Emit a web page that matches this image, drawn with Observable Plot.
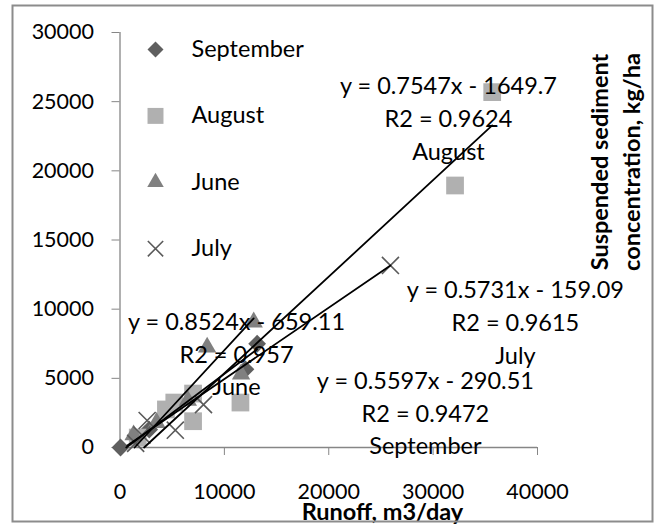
<!DOCTYPE html>
<html><head><meta charset="utf-8">
<script src="https://cdn.jsdelivr.net/npm/d3@7"></script>
<script src="https://cdn.jsdelivr.net/npm/@observablehq/plot@0.6"></script>
<style>body{margin:0;background:#fff}#chart{width:661px;height:525px}</style>
</head><body><div id="chart"></div>
<script>
// ---- data ----
const seriesNames = ["September", "August", "June", "July"];
const septX = [50, 12020, 13140, 2800];
const septY = [0, 5650, 7500, 1300];
const augX = [1700, 4400, 5200, 7000, 7000, 11540, 32100, 35660];
const augY = [720, 2750, 3250, 3900, 1900, 3250, 18940, 25690];
const juneX = [1300, 3500, 6500, 8350, 11600, 12810];
const juneY = [900, 1800, 3400, 7250, 5300, 9060];
const julyX = [1500, 2100, 2600, 5300, 8000, 25910];
const julyY = [300, 900, 1950, 1250, 3100, 13160];

// trend line endpoints [startX, startY, endX, endY]
const trendSept = [600, 0, 13140, 7100];
const trendAug = [2310, 0, 35660, 23280];
const trendJune = [1400, 0, 12810, 9330];
const trendJuly = [700, 150, 25910, 13160];

const trendLabels = [
  "y = 0.5597x - 290.51\nR2 = 0.9472\nSeptember",
  "y = 0.7547x - 1649.7\nR2 = 0.9624\nAugust",
  "y = 0.8524x - 659.11\nR2 = 0.957\nJune",
  "y = 0.5731x - 159.09\nR2 = 0.9615\nJuly"
];
const labelX = [29260, 31470, 11160, 37880];
const labelY = [2640, 23935, 6905, 9180];

const xTicks = [0, 10000, 20000, 30000, 40000];
const yTicks = [0, 5000, 10000, 15000, 20000, 25000, 30000];
const xTitle = "Runoff, m3/day";
const yTitle = "Suspended sediment\nconcentration, kg/ha";

// ---- build tables ----
const pts = (xs, ys) => xs.map((x, i) => ({x, y: ys[i]}));
const seriesPts = [pts(septX, septY), pts(augX, augY), pts(juneX, juneY), pts(julyX, julyY)];
const trendRows = [trendSept, trendAug, trendJune, trendJuly].flatMap((t, i) => [
  {s: seriesNames[i], x: t[0], y: t[1]}, {s: seriesNames[i], x: t[2], y: t[3]}
]);
const labels = trendLabels.map((t, i) => ({t, x: labelX[i], y: labelY[i]}));

const styles = [
  {symbol: "diamond2", r: 8, fill: "#5f5f5f"},
  {symbol: "square", r: 10, fill: "#b0b0b0"},
  {symbol: "triangle", r: 6.8, fill: "#808080"},
  {symbol: "times", r: 7.8, stroke: "#5a5a5a", strokeWidth: 1.6}
];
const axisGray = "#868686";
const textSize = 23.5;

const pointMarks = seriesPts.map((d, i) => {
  const s = styles[i];
  return Plot.dot(d, {x: "x", y: "y", symbol: s.symbol, r: s.r,
    fill: s.fill || "none", stroke: s.stroke || "none", strokeWidth: s.strokeWidth || 0});
});
const legendMarks = seriesNames.flatMap((n, i) => {
  const s = styles[i];
  const dy = 17 + i * 66.4;
  return [
    Plot.dot([n], {frameAnchor: "top-left", dx: 35.5, dy, symbol: s.symbol, r: s.r * 0.9,
      fill: s.fill || "none", stroke: s.stroke || "none", strokeWidth: s.strokeWidth || 0}),
    Plot.text([n], {frameAnchor: "top-left", dx: 71.5, dy, text: d => d, textAnchor: "start",
      lineAnchor: "middle", fontSize: textSize, fill: "black"})
  ];
});

const plot = Plot.plot({
  width: 661, height: 525,
  marginLeft: 119.5, marginRight: 124, marginTop: 32, marginBottom: 78,
  x: {domain: [0, 40000]},
  y: {domain: [0, 30000]},
  style: {fontFamily: "Lato", fontSize: "21.5px", background: "white", color: "black", overflow: "visible"},
  marks: [
    Plot.axisX({ticks: xTicks, tickSize: 8, tickPadding: 28, tickFormat: d3.format("d"), label: null, stroke: axisGray, fill: "black"}),
    Plot.axisY({ticks: yTicks, tickSize: 8, tickPadding: 18, tickFormat: d3.format("d"), label: null, stroke: axisGray, fill: "black"}),
    Plot.ruleY([0], {stroke: axisGray, strokeWidth: 1.3}),
    Plot.ruleX([0], {stroke: axisGray, strokeWidth: 1.3}),
    ...pointMarks,
    Plot.line(trendRows, {x: "x", y: "y", z: "s", stroke: "black", strokeWidth: 1.8}),
    ...legendMarks,
    Plot.text(labels, {x: "x", y: "y", text: "t", textAnchor: "middle", lineAnchor: "middle",
      lineHeight: 1.4, fontSize: textSize, fill: "black"}),
    Plot.text([xTitle], {frameAnchor: "bottom", dx: 53.75, dy: 65, text: d => d, fontWeight: "bold",
      textAnchor: "middle", lineAnchor: "middle", fontSize: textSize, fill: "black"}),
    Plot.text([yTitle], {frameAnchor: "right", dx: 76, dy: -78, text: d => d, rotate: -90, fontWeight: "bold",
      textAnchor: "middle", lineAnchor: "middle", lineHeight: 1.4, fontSize: textSize, fill: "black"})
  ]
});
d3.select(plot).append("rect")
  .attr("x", 12.5).attr("y", 5.5).attr("width", 640).attr("height", 516)
  .attr("fill", "none").attr("stroke", "#8c8c8c").attr("stroke-width", 2);
document.getElementById("chart").append(plot);
</script>
</body></html>
